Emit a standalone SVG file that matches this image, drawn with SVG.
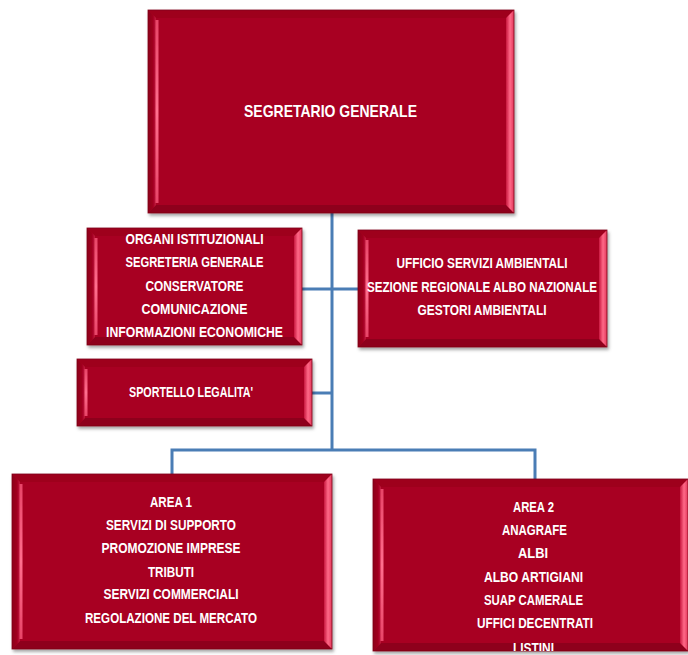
<svg xmlns="http://www.w3.org/2000/svg" width="688" height="655" viewBox="0 0 688 655">
<defs>
<filter id="sh" x="-5%" y="-5%" width="112%" height="115%">
<feDropShadow dx="1.5" dy="2.5" stdDeviation="1.8" flood-color="#000" flood-opacity="0.35"/>
</filter>
<linearGradient id="gR" x1="0" y1="0" x2="1" y2="0">
<stop offset="0" stop-color="#C8173E"/>
<stop offset="0.5" stop-color="#FF6A88"/>
<stop offset="1" stop-color="#E2385B"/>
</linearGradient>
<linearGradient id="gL" x1="0" y1="0" x2="1" y2="0">
<stop offset="0" stop-color="#8C001A"/>
<stop offset="0.6" stop-color="#A0001F"/>
<stop offset="1" stop-color="#C01A3E"/>
</linearGradient>
<linearGradient id="gH" x1="0" y1="0" x2="0" y2="1">
<stop offset="0" stop-color="#E84568"/>
<stop offset="0.5" stop-color="#FF6F8E"/>
<stop offset="1" stop-color="#E84568"/>
</linearGradient>
<clipPath id="c2"><rect x="373" y="479" width="315" height="172"/></clipPath>
</defs>
<style>
.body{fill:#A80023}
.top{fill:#9E001F}
.bot{fill:#8E001B}
.lf{fill:url(#gL)}
.rf{fill:url(#gR)}
.hl{fill:url(#gH)}
.edge{fill:none;stroke:#7E0018;stroke-width:0.8}
text{font-family:"Liberation Sans",Arial,sans-serif;font-weight:bold;fill:#FFFFFF;text-anchor:middle;font-size:14.5px}
.title{font-size:17px}
.conn{fill:none;stroke:#4A7DB5;stroke-width:3}
</style>

<g id="connectors">
<path class="conn" d="M332,213 V450"/>
<path class="conn" d="M302,289 H358"/>
<path class="conn" d="M312,393 H332"/>
<path class="conn" d="M172,474 V450 H535 V479"/>
</g>

<g id="segretario">
<g filter="url(#sh)">
<rect class="body" x="148" y="10" width="366" height="203"/>
<polygon class="top" points="148,10 156,18 506,18 514,10"/>
<polygon class="bot" points="148,213 156,205 506,205 514,213"/>
<polygon class="lf" points="148,10 156,18 156,205 148,213"/>
<polygon class="rf" points="514,10 506,18 506,205 514,213"/>
<rect class="hl" x="155.5" y="20" width="3" height="183"/>
<rect class="edge" x="148" y="10" width="366" height="203"/>
</g>
<text class="title" x="330.5" y="117" textLength="173" lengthAdjust="spacingAndGlyphs">SEGRETARIO GENERALE</text>
</g>

<g id="organi">
<g filter="url(#sh)">
<rect class="body" x="87" y="228" width="215" height="117"/>
<polygon class="top" points="87,228 95,236 294,236 302,228"/>
<polygon class="bot" points="87,345 95,337 294,337 302,345"/>
<polygon class="lf" points="87,228 95,236 95,337 87,345"/>
<polygon class="rf" points="302,228 294,236 294,337 302,345"/>
<rect class="hl" x="94.5" y="238" width="3" height="97"/>
<rect class="edge" x="87" y="228" width="215" height="117"/>
</g>
<text x="194.5" y="244" textLength="138" lengthAdjust="spacingAndGlyphs">ORGANI ISTITUZIONALI</text>
<text x="194.5" y="267" textLength="138" lengthAdjust="spacingAndGlyphs">SEGRETERIA GENERALE</text>
<text x="194.5" y="291" textLength="98" lengthAdjust="spacingAndGlyphs">CONSERVATORE</text>
<text x="194.5" y="314" textLength="106" lengthAdjust="spacingAndGlyphs">COMUNICAZIONE</text>
<text x="194.5" y="337" textLength="177" lengthAdjust="spacingAndGlyphs">INFORMAZIONI ECONOMICHE</text>
</g>

<g id="sportello">
<g filter="url(#sh)">
<rect class="body" x="77" y="359" width="235" height="67"/>
<polygon class="top" points="77,359 85,367 304,367 312,359"/>
<polygon class="bot" points="77,426 85,418 304,418 312,426"/>
<polygon class="lf" points="77,359 85,367 85,418 77,426"/>
<polygon class="rf" points="312,359 304,367 304,418 312,426"/>
<rect class="hl" x="84.5" y="369" width="3" height="47"/>
<rect class="edge" x="77" y="359" width="235" height="67"/>
</g>
<text x="191" y="397" textLength="124" lengthAdjust="spacingAndGlyphs">SPORTELLO LEGALITA'</text>
</g>

<g id="ufficio">
<g filter="url(#sh)">
<rect class="body" x="358" y="230" width="249" height="117"/>
<polygon class="top" points="358,230 366,238 599,238 607,230"/>
<polygon class="bot" points="358,347 366,339 599,339 607,347"/>
<polygon class="lf" points="358,230 366,238 366,339 358,347"/>
<polygon class="rf" points="607,230 599,238 599,339 607,347"/>
<rect class="hl" x="365.5" y="240" width="3" height="97"/>
<rect class="edge" x="358" y="230" width="249" height="117"/>
</g>
<text x="482" y="268" textLength="171" lengthAdjust="spacingAndGlyphs">UFFICIO SERVIZI AMBIENTALI</text>
<text x="482" y="292" textLength="230" lengthAdjust="spacingAndGlyphs">SEZIONE REGIONALE ALBO NAZIONALE</text>
<text x="482" y="315" textLength="129" lengthAdjust="spacingAndGlyphs">GESTORI AMBIENTALI</text>
</g>

<g id="area1">
<g filter="url(#sh)">
<rect class="body" x="12" y="474" width="320" height="175"/>
<polygon class="top" points="12,474 20,482 324,482 332,474"/>
<polygon class="bot" points="12,649 20,641 324,641 332,649"/>
<polygon class="lf" points="12,474 20,482 20,641 12,649"/>
<polygon class="rf" points="332,474 324,482 324,641 332,649"/>
<rect class="hl" x="19.5" y="484" width="3" height="155"/>
<rect class="edge" x="12" y="474" width="320" height="175"/>
</g>
<text x="171" y="507" textLength="42" lengthAdjust="spacingAndGlyphs">AREA 1</text>
<text x="171" y="530" textLength="130" lengthAdjust="spacingAndGlyphs">SERVIZI DI SUPPORTO</text>
<text x="171" y="553" textLength="139" lengthAdjust="spacingAndGlyphs">PROMOZIONE IMPRESE</text>
<text x="171" y="577" textLength="46" lengthAdjust="spacingAndGlyphs">TRIBUTI</text>
<text x="171" y="599" textLength="135" lengthAdjust="spacingAndGlyphs">SERVIZI COMMERCIALI</text>
<text x="171" y="623" textLength="172" lengthAdjust="spacingAndGlyphs">REGOLAZIONE DEL MERCATO</text>
</g>

<g id="area2">
<g filter="url(#sh)">
<rect class="body" x="373" y="479" width="315" height="172"/>
<polygon class="top" points="373,479 381,487 680,487 688,479"/>
<polygon class="bot" points="373,651 381,643 680,643 688,651"/>
<polygon class="lf" points="373,479 381,487 381,643 373,651"/>
<polygon class="rf" points="688,479 680,487 680,643 688,651"/>
<rect class="hl" x="380.5" y="489" width="3" height="152"/>
<rect class="edge" x="373" y="479" width="315" height="172"/>
</g>
<g clip-path="url(#c2)">
<text x="533.5" y="512" textLength="41" lengthAdjust="spacingAndGlyphs">AREA 2</text>
<text x="534.5" y="535" textLength="65" lengthAdjust="spacingAndGlyphs">ANAGRAFE</text>
<text x="533" y="558" textLength="30" lengthAdjust="spacingAndGlyphs">ALBI</text>
<text x="533.5" y="582" textLength="99" lengthAdjust="spacingAndGlyphs">ALBO ARTIGIANI</text>
<text x="533.5" y="605" textLength="99" lengthAdjust="spacingAndGlyphs">SUAP CAMERALE</text>
<text x="535" y="628" textLength="116" lengthAdjust="spacingAndGlyphs">UFFICI DECENTRATI</text>
<text x="533.5" y="653" textLength="41" lengthAdjust="spacingAndGlyphs">LISTINI</text>
</g>
</g>
</svg>
